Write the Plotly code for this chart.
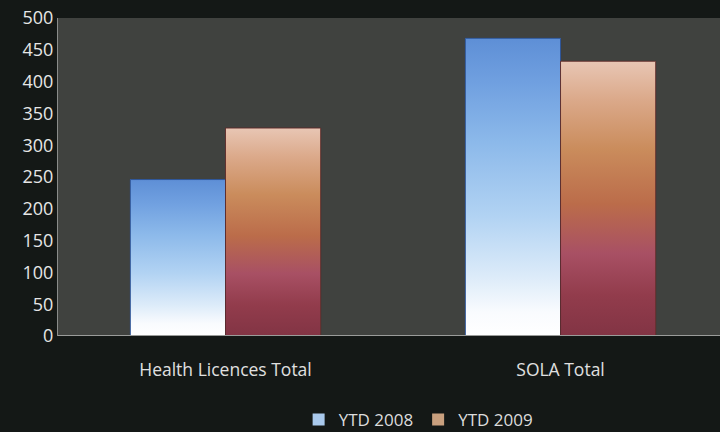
import plotly.graph_objects as go

categories = ["Health Licences Total", "SOLA Total"]
series_names = ["YTD 2008", "YTD 2009"]
ytd_2008 = [246, 468]
ytd_2009 = [327, 432]
y_ticks = [0, 50, 100, 150, 200, 250, 300, 350, 400, 450, 500]

positions = list(range(len(categories)))
BAR_W = 0.284

blue_scale = [[0.0, "#ffffff"], [0.08, "#f9fbfe"], [0.2, "#dcebf9"],
              [0.4, "#b2d3f3"], [0.65, "#8cb9ea"], [0.85, "#70a0e0"], [1.0, "#5e8fd6"]]
orange_scale = [[0.0, "#823444"], [0.15, "#923c4c"], [0.3, "#a85064"],
                [0.48, "#bb6c4a"], [0.68, "#ca8c5c"], [0.86, "#dba98a"], [1.0, "#e8c6b4"]]

fig = go.Figure()

specs = [
    (series_names[0], ytd_2008, -BAR_W, "#a9c9ec", blue_scale, "rgba(40,80,150,0.9)"),
    (series_names[1], ytd_2009, 0.0, "#c9a07e", orange_scale, "rgba(90,40,40,0.9)"),
]

for name, vals, off, legend_col, scale, edge in specs:
    fig.add_trace(go.Bar(
        x=positions, y=vals, name=name, width=BAR_W, offset=off,
        marker=dict(color=legend_col, line=dict(width=0)),
    ))

for name, vals, off, legend_col, scale, edge in specs:
    for p, v in zip(positions, vals):
        x0 = p + off
        x1 = x0 + BAR_W
        fig.add_trace(go.Scatter(
            x=[x0, x0, x1, x1, x0], y=[0, v, v, 0, 0],
            mode="lines", fill="toself",
            fillgradient=dict(type="vertical", colorscale=scale),
            line=dict(color=edge, width=1),
            showlegend=False, hoverinfo="skip",
        ))

fig.update_layout(
    width=720, height=432,
    margin=dict(l=58, r=0, t=18, b=96),
    paper_bgcolor="#141816",
    plot_bgcolor="#40423f",
    barmode="overlay",
    font=dict(family="Open Sans", color="#e4e4e4"),
    showlegend=True,
    legend=dict(
        orientation="h", x=0.544, xanchor="center",
        yref="container", y=0.028, yanchor="middle",
        font=dict(size=17, color="#dcdcdc"), bgcolor="rgba(0,0,0,0)",
        traceorder="normal", itemwidth=30,
    ),
    xaxis=dict(
        range=[-0.5, 1.476], tickvals=positions, ticktext=categories,
        showgrid=False, zeroline=False, showline=False,
        tickfont=dict(size=17.5, color="#e0e0e0"), ticks="", ticklabelstandoff=21,
    ),
    yaxis=dict(
        range=[0, 500], tickvals=y_ticks, showgrid=False, zeroline=False,
        showline=True, linecolor="#8a8c8a", linewidth=1,
        tickfont=dict(size=18, color="#e6e6e6"), ticks="",
    ),
    shapes=[dict(type="line", xref="paper", yref="y", x0=0, x1=1, y0=0, y1=0,
                 line=dict(color="#9a9c9a", width=2))],
)

fig.write_html("out.html", config={"displayModeBar": False},
               post_script="document.body.style.margin='0';document.body.style.background='#141816';")
